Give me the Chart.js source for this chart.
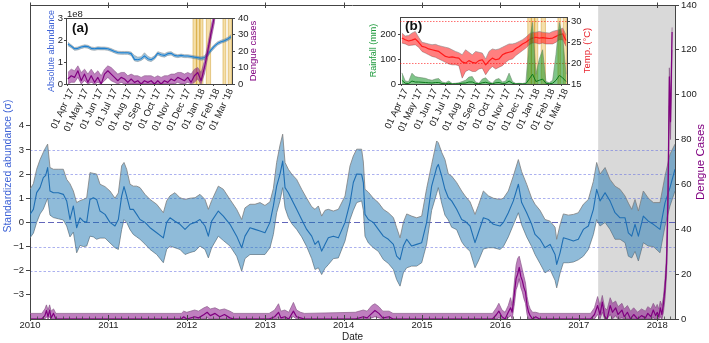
<!DOCTYPE html>
<html><head><meta charset="utf-8">
<script src="https://cdn.jsdelivr.net/npm/chart.js@4.4.1/dist/chart.umd.min.js"></script>
<style>
html,body{margin:0;padding:0;background:#fff;}
#wrap{position:relative;width:709px;height:343px;overflow:hidden;}
canvas{position:absolute;}
</style></head><body>
<div id="wrap">
<canvas id="main" width="709" height="343" style="left:0;top:0"></canvas>
<canvas id="insA" width="222" height="136" style="left:40px;top:4px"></canvas>
<canvas id="insB" width="236" height="136" style="left:360px;top:4px"></canvas>
</div>
<script>
// ---------------- MAIN PANEL DATA ----------------
const yearTicks = [2010,2011,2012,2013,2014,2015,2016,2017,2018];
const leftTicks = [-3,-2,-1,0,1,2,3,4];
const rightTicks = [0,20,40,60,80,100,120,140];
const gridVals = [-2,-1,0,1,2,3];
const shadeStart = 2017.247;   // 01 Apr 2017
const xTitle = 'Date';
const leftTitle = 'Standardized abundance (\u03C3)';
const rightTitle = 'Dengue Cases';

// standardized abundance (time in decimal years)
const absT = [
 2010.000,2010.043,2010.085,2010.128,2010.170,2010.200,2010.225,2010.255,2010.298,2010.361,2010.425,2010.468,2010.510,2010.553,2010.595,2010.638,2010.680,2010.723,2010.765,2010.808,2010.850,2010.893,2010.957,
 2011.020,2011.084,2011.127,2011.169,2011.199,2011.233,2011.276,2011.318,2011.361,2011.403,2011.467,2011.531,2011.616,2011.701,2011.743,2011.786,2011.849,2011.913,2011.977,
 2012.041,2012.105,2012.168,2012.232,2012.275,2012.317,2012.402,2012.466,2012.551,2012.636,2012.700,2012.742,2012.806,2012.870,2012.934,2012.997,
 2013.061,2013.104,2013.146,2013.189,2013.223,2013.253,2013.295,2013.338,2013.401,2013.465,2013.529,2013.593,2013.635,2013.678,2013.720,2013.763,2013.805,2013.869,2013.933,
 2014.018,2014.082,2014.124,2014.167,2014.230,2014.252,2014.273,2014.316,2014.379,2014.443,2014.507,2014.571,2014.635,2014.677,2014.720,2014.762,2014.805,2014.868,2014.932,2014.996,
 2015.059,2015.123,2015.187,2015.208,2015.251,2015.293,2015.336,2015.378,2015.442,2015.506,2015.549,2015.613,2015.676,2015.719,2015.783,2015.846,2015.910,2015.995,
 2016.038,2016.101,2016.165,2016.229,2016.271,2016.335,2016.399,2016.442,2016.505,2016.569,2016.633,2016.697,2016.718,2016.761,2016.803,2016.867,2016.931,2016.994,
 2017.058,2017.122,2017.186,2017.228,2017.271,2017.335,2017.398,2017.462,2017.526,2017.590,2017.632,2017.675,2017.717,2017.760,2017.823,2017.887,2017.951,2018.036,2018.100,2018.163,2018.227];
const absMean = [
 0.33,0.54,1.23,1.44,1.85,1.95,2.27,1.30,1.23,1.23,1.16,0.89,0.12,0.68,-0.22,0.19,0.05,0.00,0.95,1.02,0.95,0.47,0.33,
 0.00,-0.15,0.12,1.09,1.48,1.09,0.54,0.54,0.33,0.12,0.00,-0.22,-0.43,-0.64,0.00,0.19,0.05,-0.08,-0.29,
 -0.08,0.00,0.12,-0.15,-0.57,0.05,0.47,0.26,-0.08,-0.57,-1.05,-0.57,-0.22,-0.29,-0.36,-0.43,
 0.00,0.68,1.50,2.00,2.54,1.44,1.23,0.95,0.54,0.12,-0.29,-0.57,-0.91,-0.77,-1.19,-0.91,-0.64,-0.57,-0.64,
 0.00,0.82,1.65,2.00,1.99,1.65,0.33,0.12,0.00,-0.29,-0.57,-0.70,-0.91,-1.40,-1.54,-0.98,-0.70,-0.98,-0.91,-0.84,
 0.00,1.50,2.27,2.40,1.92,1.37,1.02,0.89,0.54,0.12,0.05,-0.15,-0.84,-0.43,0.19,0.12,-0.08,-0.15,
 0.00,0.40,0.89,1.58,0.82,0.40,-0.08,-0.50,-0.70,-1.05,-0.91,-1.33,-1.74,-1.26,-0.64,-0.70,-0.77,-0.70,
 -0.29,-0.15,0.54,1.37,0.89,1.23,0.89,0.40,0.19,0.19,-0.43,-0.57,-0.08,-0.57,0.26,0.05,-0.08,-0.29,0.82,1.44,2.20];
const absLo = [
 -0.64,-0.45,0.00,0.35,0.55,0.80,1.00,0.30,0.20,0.15,0.10,-0.15,-0.60,-0.40,-1.26,-0.95,-1.00,-0.98,-0.57,-0.60,-0.70,-0.65,-0.65,
 -0.85,-1.05,-1.12,-0.30,0.12,0.00,-0.30,-0.50,-0.60,-0.70,-0.90,-1.12,-1.33,-1.67,-1.12,-0.98,-1.05,-1.12,-1.33,
 -1.25,-1.19,-0.98,-1.12,-1.47,-1.05,-0.57,-0.75,-0.98,-1.40,-2.02,-1.50,-1.33,-1.33,-1.33,-1.33,
 -1.05,-0.50,0.40,0.90,1.44,0.60,0.20,-0.05,-0.29,-0.60,-1.00,-1.50,-1.95,-1.88,-2.16,-1.90,-1.75,-1.50,-1.47,
 -0.77,0.12,0.50,0.82,0.89,0.50,-0.57,-0.85,-1.05,-1.20,-1.54,-1.70,-1.95,-2.37,-2.64,-2.09,-1.88,-1.81,-1.81,-1.67,
 -0.90,0.50,1.20,1.44,0.80,0.30,0.10,-0.20,-0.30,-0.80,-1.00,-1.20,-1.88,-1.60,-1.10,-1.05,-1.05,-1.12,
 -1.00,-0.60,-0.10,0.40,-0.10,-0.60,-1.00,-1.33,-1.70,-2.09,-1.95,-2.40,-2.71,-2.10,-1.67,-1.67,-1.64,-1.55,
 -1.40,-1.12,-0.50,0.12,-0.15,0.00,-0.29,-0.70,-0.70,-0.84,-1.40,-1.47,-1.20,-1.60,-0.84,-0.98,-1.00,-1.26,-0.15,0.68,1.30];
const absHi = [
 1.37,1.60,2.20,2.60,2.90,3.10,3.24,2.27,2.20,2.20,2.20,1.78,1.60,1.30,0.82,0.90,0.95,1.02,2.06,2.03,2.00,1.58,1.48,
 1.30,1.00,1.22,2.34,2.48,2.20,1.58,1.50,1.50,1.44,1.16,0.95,0.75,0.40,0.89,1.10,1.23,1.02,0.95,
 1.00,1.02,1.16,0.95,0.54,0.90,1.50,1.37,0.95,0.54,0.12,0.60,0.75,0.75,0.82,0.70,
 0.85,1.40,2.48,3.20,3.65,2.48,2.20,2.00,1.78,1.37,1.00,0.65,0.54,0.68,0.26,0.50,0.54,0.47,0.54,
 1.09,2.34,2.75,3.03,3.03,2.50,1.37,1.25,1.00,0.82,0.54,0.40,0.20,-0.22,-0.64,0.00,0.35,0.26,0.19,0.26,
 1.40,2.40,3.37,3.30,2.90,2.60,2.00,1.92,1.65,1.30,1.10,0.85,0.33,0.70,1.30,1.10,1.00,0.95,
 1.00,1.30,1.92,2.60,2.10,1.58,1.00,0.75,0.50,0.12,0.05,-0.20,-0.70,-0.10,0.35,0.30,0.33,0.40,
 0.75,0.95,1.70,2.48,2.00,2.27,1.78,1.50,1.37,1.09,0.80,0.54,0.95,0.47,1.30,1.00,0.82,0.82,1.92,2.82,3.24];

// dengue cases (main panel)
const dengT = [
 2010.00,2010.15,2010.19,2010.21,2010.23,2010.25,2010.27,2010.30,2010.33,
 2011.93,2011.96,2012.00,2012.10,2012.15,2012.22,2012.26,2012.30,2012.36,2012.42,2012.48,2012.55,2012.60,
 2013.05,2013.12,2013.17,2013.20,2013.25,2013.30,2013.36,2013.40,2013.45,2013.50,
 2014.15,2014.25,2014.30,2014.36,2014.40,2014.45,2014.50,2014.58,2014.63,
 2015.90,2015.95,2015.98,2016.02,2016.06,2016.10,2016.13,2016.15,2016.18,2016.20,2016.22,2016.24,2016.26,2016.28,2016.30,2016.32,2016.34,2016.36,2016.38,2016.41,2016.45,2016.50,
 2017.15,2017.20,2017.24,2017.27,2017.30,2017.33,2017.36,2017.40,2017.43,2017.47,2017.50,2017.55,2017.58,2017.62,2017.66,2017.70,2017.75,2017.80,2017.85,2017.88,2017.92,2017.95,2017.98,
 2018.00,2018.02,2018.04,2018.06,2018.08,2018.10,2018.12,2018.14,2018.155,2018.17,2018.19];
const dengMean = [
 0,0,1.5,3.8,1,4,0.5,2.5,0,
 0,1,0,1,0.5,2,3,1.5,2.5,1,2,0.5,0,
 0,1,3,0.5,1,0,3.5,1,0.5,0,
 0,1,0.5,2.5,3.8,2.5,0.5,1,0,
 0,2,3.5,1,0,3,5,3,12,18,20,23,19,17,14,12,6,3,1.5,0,1,0,
 0,2,6,2,7.5,1,0,6,3,5,2,4,1,3,0,2,0,1.5,0.5,2.5,1,4,1.5,
 3,1,5,2,7,14,25,60,108,88,128];
const dengLo = [
 0,0,0,1,0,1,0,0,0,
 0,0,0,0,0,0,0.5,0,0,0,0,0,0,
 0,0,0.5,0,0,0,1,0,0,0,
 0,0,0,0.5,1,0.5,0,0,0,
 0,0,0.5,0,0,0.5,1.5,0,7,13,15,18,14,12,9,7,2,0,0,0,0,0,
 0,0,2,0,3,0,0,2,0,1.5,0,0.5,0,0,0,0,0,0,0,0,0,0.5,0,
 0.5,0,1,0,3,9,20,50,95,80,120];
const dengHi = [
 2.5,2.5,4.5,6.3,4,6.3,3.5,4.5,2.5,
 2.5,3.5,3,4,3.5,5,5.6,4.5,5,4,4.5,3.5,2.5,
 2.5,4,6.8,3.5,4,3,7.4,4,3,2.5,
 3,4,3.5,6,6.8,5.5,3.5,3.5,2.5,
 2.5,5,7,4,3,6,9.5,6,17,24,27,28,25,22,19,16,10,6.5,4.5,3,3,2.5,
 2.5,5,10,6,10.5,5,4,9.5,7,8,5.5,7,4.5,6,3.5,5,3,4.5,3.5,5.5,4.5,7,5,
 6.5,4.5,8,6,10,18,30,70,112,95,130];

// ---------------- INSET DATA (weekly from 01 Apr 2017) ----------------
const monthDays = [0,30,61,91,122,153,183,214,245,275,306,334];
const monthLabels = ["01 Apr '17","01 May '17","01 Jun '17","01 Jul '17","01 Aug '17","01 Sep '17","01 Oct '17","01 Nov '17","01 Dec '17","01 Jan '18","01 Feb '18","01 Mar '18"];
const eventStart = [263,270,277,291,326,337];
const eventEnd   = [271,278,284,300,332,344];

// (a) absolute abundance (x1e8) and dengue cases
const absMeanA = [1.82,1.72,1.60,1.62,1.68,1.72,1.70,1.62,1.60,1.63,1.62,1.62,1.60,1.55,1.48,1.43,1.42,1.42,1.42,1.38,1.12,1.10,1.15,1.28,1.15,1.10,1.20,1.40,1.33,1.30,1.38,1.40,1.30,1.27,1.30,1.27,1.27,1.25,1.22,1.20,1.17,1.20,1.35,1.55,1.72,1.85,1.92,1.97,2.05,2.15];
const absHiA   = [1.90,1.78,1.66,1.68,1.74,1.78,1.76,1.68,1.66,1.69,1.68,1.68,1.66,1.61,1.54,1.49,1.48,1.48,1.48,1.45,1.30,1.22,1.24,1.42,1.26,1.18,1.28,1.47,1.42,1.38,1.45,1.47,1.37,1.33,1.36,1.33,1.33,1.31,1.28,1.26,1.24,1.28,1.44,1.63,1.80,1.92,1.99,2.04,2.12,2.24];
const absLoA   = [1.74,1.65,1.53,1.55,1.61,1.65,1.63,1.55,1.53,1.56,1.55,1.55,1.53,1.48,1.41,1.36,1.35,1.35,1.35,1.30,1.05,1.02,1.07,1.18,1.06,1.02,1.12,1.32,1.25,1.22,1.30,1.32,1.23,1.20,1.23,1.20,1.20,1.18,1.15,1.12,1.08,1.10,1.25,1.46,1.63,1.77,1.85,1.90,1.97,2.06];
const dengA   = [3,5,4,8,2,6,1,5,1,4, 0,6,8,6,4,2,4,3,1,3, 1,2,0,2,1,2,0,2,0,2, 1,3,2,4,3,2,4,1,5,7, 2,10,20,31,41,65,100,88,128];
const dengHiA = [7,9,8,11,7,9,6,9,6,8, 5,9,11,10,8,6,7,7,5,6, 5,5,4,5,5,5,4,5,4,5, 5,6,6,7,7,6,7,6,9,10, 7,14,24,35,45,70,105,93,130];
const dengLoA = [0,1,1,4,0,2,0,1,0,1, 0,2,4,2,1,0,1,0,0,0, 0,0,0,0,0,0,0,0,0,0, 0,0,0,1,0,0,1,0,1,3, 0,6,16,27,37,60,95,83,124];

// (b) rainfall (mm) and temperature (C)
const rainHi   = [45,12,10,44,30,27,25,23,18,15, 20,22,8,5,12,2,3,5,10,15, 28,30,8,3,20,25,10,3,18,22, 8,12,44,10,2,3,2,5,170,250, 40,100,139,10,5,15,120,250,190,40];
const rainMean = [15,3,2,12,8,8,7,6,5,4, 6,6,2,1,3,0,1,1,3,4, 8,8,2,1,5,7,3,1,5,6, 2,3,12,3,0,1,0,1,20,40, 10,15,20,3,1,3,15,35,25,10];
const tempMean = [26.0,25.6,25.3,25.5,25.8,25.0,24.0,23.8,23.4,23.2, 23.0,22.8,22.2,21.6,21.4,21.5,21.3,21.2,20.3,20.0, 20.6,20.2,20.0,20.6,20.8,19.6,20.5,21.2,20.8,21.0, 22.0,22.4,22.6,22.8,23.5,24.0,24.6,25.0,25.6,26.0, 26.2,26.0,26.1,26.0,25.9,26.0,26.4,26.8,27.0,25.4];
const tempHi   = [27.2,26.5,26.6,27.2,27.6,26.2,25.0,24.8,24.6,24.4, 24.5,24.2,24.0,23.8,23.6,23.2,22.8,22.5,22.0,23.2, 22.6,22.0,22.8,22.6,22.4,21.0,22.8,23.4,23.2,23.4, 23.8,24.2,24.6,24.6,24.8,25.2,25.6,26.2,27.0,27.4, 27.4,27.6,27.4,27.3,27.2,27.6,27.8,28.0,28.4,26.8];
const tempLo   = [24.8,24.6,24.2,24.3,24.4,23.8,22.8,22.4,22.0,21.6, 21.4,21.0,20.6,20.2,19.8,19.6,19.6,19.4,16.4,18.0, 18.4,18.0,18.0,18.6,18.8,17.2,18.4,19.2,18.6,19.0, 19.4,20.2,20.8,21.0,21.8,22.4,23.0,23.6,24.4,24.8, 24.8,24.6,24.8,24.6,24.6,24.6,25.0,25.6,25.6,24.0];
const tempRefLines = [20,30];

// ---------------- helpers ----------------
const FAM = "'Liberation Sans', Arial, sans-serif";
Chart.defaults.font.family = FAM;
Chart.defaults.color = '#222';
const minus = v => String(v).replace('-', '\u2212');
const pts = (xs, ys) => xs.map((x, i) => ({x, y: ys[i]}));
const weekDays = arr => arr.map((_, i) => i * 7);
const lineDs = (data, axis, color, width, extra) => Object.assign({
  data, yAxisID: axis, borderColor: color, borderWidth: width, pointRadius: 0,
  fill: false, tension: 0, borderJoinStyle: 'round'}, extra || {});

function sideTitle(ctx, text, x, y, font, color){
  ctx.save(); ctx.font = font; ctx.fillStyle = color;
  ctx.textAlign = 'center'; ctx.textBaseline = 'middle';
  ctx.translate(x, y); ctx.rotate(-Math.PI/2); ctx.fillText(text, 0, 0); ctx.restore();
}
function fixedTicks(list){ return s => { s.ticks = list.map(v => ({value: v})); }; }
function drawEvents(chart){
  const {ctx, chartArea: a, scales: {x}} = chart;
  ctx.save();
  ctx.beginPath(); ctx.rect(a.left, a.top, a.right - a.left, a.bottom - a.top); ctx.clip();
  eventStart.forEach((s, i) => {
    const x0 = x.getPixelForValue(s), x1 = x.getPixelForValue(eventEnd[i]);
    ctx.fillStyle = 'rgba(232,178,52,0.42)';
    ctx.fillRect(x0, a.top, x1 - x0, a.bottom - a.top);
    ctx.strokeStyle = 'rgba(200,145,20,0.6)'; ctx.lineWidth = 0.7;
    ctx.beginPath(); ctx.moveTo(x0, a.top); ctx.lineTo(x0, a.bottom);
    ctx.moveTo(x1, a.top); ctx.lineTo(x1, a.bottom); ctx.stroke();
  });
  ctx.restore();
}
function topBorder(chart){
  const {ctx, chartArea: a} = chart;
  ctx.save(); ctx.strokeStyle = '#444'; ctx.lineWidth = 1;
  ctx.beginPath(); ctx.moveTo(a.left, Math.round(a.top) + 0.5); ctx.lineTo(a.right, Math.round(a.top) + 0.5); ctx.stroke();
  ctx.restore();
}
const noInteract = {responsive: false, animation: false, events: [], devicePixelRatio: 1,
  plugins: {legend: {display: false}, tooltip: {enabled: false}}};

// ---------------- MAIN CHART ----------------
const mainDecor = {
  id: 'mainDecor',
  beforeDraw(chart){
    const {ctx, chartArea: a, scales: {x, y}} = chart;
    ctx.save();
    const xs = x.getPixelForValue(shadeStart);
    ctx.fillStyle = '#d9d9d9';
    ctx.fillRect(xs, a.top, a.right - xs, a.bottom - a.top);
    gridVals.forEach(v => {
      const py = Math.round(y.getPixelForValue(v)) + 0.5;
      ctx.beginPath();
      ctx.setLineDash(v === 0 ? [6, 3] : [2.5, 2]);
      ctx.strokeStyle = v === 0 ? 'rgba(70,75,175,0.85)' : 'rgba(95,105,225,0.65)';
      ctx.lineWidth = v === 0 ? 1 : 0.8;
      ctx.moveTo(a.left, py); ctx.lineTo(a.right, py); ctx.stroke();
    });
    ctx.restore();
  },
  afterDraw(chart){
    const {ctx, chartArea: a, scales: {x}} = chart;
    topBorder(chart);
    ctx.save(); ctx.strokeStyle = '#444'; ctx.lineWidth = 1;
    yearTicks.forEach(v => {
      const px = Math.round(x.getPixelForValue(v)) + 0.5;
      ctx.beginPath();
      ctx.moveTo(px, a.top - 2.5); ctx.lineTo(px, a.top + 3);
      ctx.moveTo(px, a.bottom - 4); ctx.lineTo(px, a.bottom + 2);
      ctx.stroke();
    });
    ctx.lineWidth = 0.8;
    ctx.beginPath();
    for (let yr = yearTicks[0]; yr <= yearTicks[yearTicks.length - 1]; yr++) {
      for (let m = 1; m < 12; m++) {
        const v = yr + m / 12;
        if (v > x.max) break;
        const px = Math.round(x.getPixelForValue(v)) + 0.5;
        ctx.moveTo(px, a.bottom); ctx.lineTo(px, a.bottom - 2.5);
      }
    }
    ctx.stroke();
    ctx.restore();
    sideTitle(ctx, leftTitle, a.left - 22, 166, "10.5px " + FAM, '#3f63d6');
    sideTitle(ctx, rightTitle, a.right + 26, (a.top + a.bottom) / 2, "11.5px " + FAM, '#800080');
  }
};

new Chart(document.getElementById('main'), {
  type: 'line',
  data: {datasets: [
    lineDs(pts(absT, absLo), 'y', '#7d7d7d', 0.8, {order: 5}),
    lineDs(pts(absT, absHi), 'y', '#7d7d7d', 0.8, {order: 4, fill: '-1', backgroundColor: 'rgba(31,119,180,0.5)'}),
    lineDs(pts(absT, absMean), 'y', '#1f6fb4', 1.1, {order: 3}),
    lineDs(pts(dengT, dengLo), 'y2', '#8a5a8a', 0.7, {order: 2}),
    lineDs(pts(dengT, dengHi), 'y2', '#8a5a8a', 0.7, {order: 1, fill: '-1', backgroundColor: 'rgba(128,0,128,0.5)'}),
    lineDs(pts(dengT, dengMean), 'y2', '#800080', 1.2, {order: 0})
  ]},
  options: Object.assign({}, noInteract, {
    layout: {padding: {top: 5, left: 0, right: 0, bottom: 0}},
    scales: {
      x: {type: 'linear', position: 'bottom', min: 2010, max: 2018.227,
        afterBuildTicks: fixedTicks(yearTicks),
        ticks: {callback: v => String(v), font: {size: 9.5}, padding: 1, maxRotation: 0, autoSkip: false, color: '#222'},
        grid: {display: true, drawOnChartArea: false, drawTicks: false},
        border: {display: true, color: '#444', width: 1},
        title: {display: true, text: xTitle, font: {size: 10}, padding: {top: 0, bottom: 0}, color: '#222'},
        afterFit: s => { s.height = 24; s.paddingLeft = 0; s.paddingRight = 0; }},
      y: {type: 'linear', position: 'left', min: -4, max: 9,
        afterBuildTicks: fixedTicks(leftTicks),
        ticks: {callback: v => minus(v), font: {size: 9.5}, padding: 2, color: '#222'},
        grid: {drawOnChartArea: false, drawTicks: true, tickLength: 4, color: '#444'},
        border: {display: true, color: '#444', width: 1},
        afterFit: s => { s.width = 30; s.paddingTop = 0; s.paddingBottom = 0; }},
      y2: {type: 'linear', axis: 'y', position: 'right', min: 0, max: 140,
        afterBuildTicks: fixedTicks(rightTicks),
        ticks: {font: {size: 9.5}, padding: 2, color: '#222'},
        grid: {drawOnChartArea: false, drawTicks: true, tickLength: 4, color: '#444'},
        border: {display: true, color: '#444', width: 1},
        afterFit: s => { s.width = 34; s.paddingTop = 0; s.paddingBottom = 0; }}
    }
  }),
  plugins: [mainDecor]
});

// ---------------- INSET (a) ----------------
const insetXScale = () => ({type: 'linear', position: 'bottom', min: -4, max: 345,
  afterBuildTicks: fixedTicks(monthDays),
  ticks: {callback: (v, i) => monthLabels[i], minRotation: 65, maxRotation: 65, autoSkip: false,
    font: {size: 9.5}, padding: 1, labelOffset: 4, color: '#222'},
  grid: {drawOnChartArea: false, drawTicks: true, tickLength: 2, color: '#444'},
  border: {display: true, color: '#444', width: 1},
  afterFit: s => { s.height = 56; s.paddingLeft = 0; s.paddingRight = 0; }});

const decorA = {
  id: 'decorA',
  beforeDatasetsDraw(chart){ drawEvents(chart); },
  afterDraw(chart){
    const {ctx, chartArea: a} = chart;
    topBorder(chart);
    ctx.save();
    ctx.fillStyle = '#111'; ctx.font = "bold 13.5px " + FAM; ctx.textBaseline = 'alphabetic';
    ctx.fillText('(a)', a.left + 6, a.top + 14);
    ctx.font = "9.5px " + FAM; ctx.fillStyle = '#222';
    ctx.fillText('1e8', a.left + 1, a.top - 1);
    ctx.restore();
    sideTitle(ctx, 'Absolute abundance', a.left - 14.5, (a.top + a.bottom) / 2, "9px " + FAM, '#3f63d6');
    sideTitle(ctx, 'Dengue cases', a.right + 21, (a.top + a.bottom) / 2, "9.5px " + FAM, '#800080');
  }
};

const wA = weekDays(absMeanA), wD = weekDays(dengA);
new Chart(document.getElementById('insA'), {
  type: 'line',
  data: {datasets: [
    lineDs(pts(wA, absLoA), 'y', '#9a9a9a', 0.6, {order: 5}),
    lineDs(pts(wA, absHiA), 'y', '#9a9a9a', 0.6, {order: 4, fill: '-1', backgroundColor: 'rgba(31,119,180,0.45)'}),
    lineDs(pts(wA, absMeanA), 'y', '#1f80d0', 1.1, {order: 3}),
    lineDs(pts(wD, dengLoA), 'y2', '#8a5a8a', 0.6, {order: 2}),
    lineDs(pts(wD, dengHiA), 'y2', '#8a5a8a', 0.6, {order: 1, fill: '-1', backgroundColor: 'rgba(128,0,128,0.5)'}),
    lineDs(pts(wD, dengA), 'y2', '#800080', 1.2, {order: 0})
  ]},
  options: Object.assign({}, noInteract, {
    layout: {padding: {top: 14, left: 0, right: 0, bottom: 0}},
    scales: {
      x: insetXScale(),
      y: {type: 'linear', position: 'left', min: 0, max: 3,
        afterBuildTicks: fixedTicks([0,1,2,3]),
        ticks: {font: {size: 9.5}, padding: 1, color: '#222'},
        grid: {drawOnChartArea: false, tickLength: 2, color: '#444'},
        border: {display: true, color: '#444', width: 1},
        afterFit: s => { s.width = 26; s.paddingTop = 0; s.paddingBottom = 0; }},
      y2: {type: 'linear', axis: 'y', position: 'right', min: 0, max: 40,
        afterBuildTicks: fixedTicks([0,10,20,30,40]),
        ticks: {font: {size: 9.5}, padding: 3, color: '#222'},
        grid: {drawOnChartArea: false, tickLength: 3, color: '#444'},
        border: {display: true, color: '#444', width: 1},
        afterFit: s => { s.width = 30; s.paddingTop = 0; s.paddingBottom = 0; }}
    }
  }),
  plugins: [decorA]
});

// ---------------- INSET (b) ----------------
const decorB = {
  id: 'decorB',
  beforeDatasetsDraw(chart){
    drawEvents(chart);
    const {ctx, chartArea: a, scales} = chart;
    ctx.save(); ctx.strokeStyle = 'rgba(255,0,0,0.7)'; ctx.lineWidth = 0.8; ctx.setLineDash([1.5, 1.5]);
    tempRefLines.forEach(v => {
      const py = Math.round(scales.yT.getPixelForValue(v)) + 0.5;
      ctx.beginPath(); ctx.moveTo(a.left, py); ctx.lineTo(a.right, py); ctx.stroke();
    });
    ctx.restore();
  },
  afterDraw(chart){
    const {ctx, chartArea: a} = chart;
    topBorder(chart);
    ctx.save();
    ctx.fillStyle = '#111'; ctx.font = "bold 13.5px " + FAM;
    ctx.fillText('(b)', a.left + 5, a.top + 13);
    ctx.restore();
    sideTitle(ctx, 'Rainfall (mm)', a.left - 26.5, (a.top + a.bottom) / 2, "9px " + FAM, '#1e9a3c');
    sideTitle(ctx, 'Temp. (\u00B0C)', a.right + 20, (a.top + a.bottom) / 2, "9.5px " + FAM, '#e8202a');
  }
};

const wR = weekDays(rainHi), wT = weekDays(tempMean);
new Chart(document.getElementById('insB'), {
  type: 'line',
  data: {datasets: [
    lineDs(pts(wT, tempLo), 'yT', '#8a8a8a', 0.6, {order: 5}),
    lineDs(pts(wT, tempHi), 'yT', '#8a8a8a', 0.6, {order: 4, fill: '-1', backgroundColor: 'rgba(255,0,0,0.5)'}),
    lineDs(pts(wT, tempMean), 'yT', '#ff1a1a', 1.2, {order: 3}),
    lineDs(pts(wR, rainHi), 'yR', '#6d8a6d', 0.6, {order: 2, fill: 'origin', backgroundColor: 'rgba(0,140,20,0.5)'}),
    lineDs(pts(wR, rainMean), 'yR', '#0b7a1a', 1.0, {order: 1})
  ]},
  options: Object.assign({}, noInteract, {
    layout: {padding: {top: 13, left: 0, right: 0, bottom: 0}},
    scales: {
      x: insetXScale(),
      yR: {type: 'linear', axis: 'y', position: 'left', min: 0, max: 272,
        afterBuildTicks: fixedTicks([0,50,100,150,200,250]),
        ticks: {font: {size: 9.5}, padding: 2, color: '#222'},
        grid: {drawOnChartArea: false, tickLength: 2, color: '#444'},
        border: {display: true, color: '#444', width: 1},
        afterFit: s => { s.width = 40; s.paddingTop = 0; s.paddingBottom = 0; }},
      yT: {type: 'linear', axis: 'y', position: 'right', min: 15, max: 31.05,
        afterBuildTicks: fixedTicks([15,20,25,30]),
        ticks: {font: {size: 9.5}, padding: 1, color: '#222'},
        grid: {drawOnChartArea: false, tickLength: 3, color: '#444'},
        border: {display: true, color: '#444', width: 1},
        afterFit: s => { s.width = 29; s.paddingTop = 0; s.paddingBottom = 0; }}
    }
  }),
  plugins: [decorB]
});
</script>
</body></html>
